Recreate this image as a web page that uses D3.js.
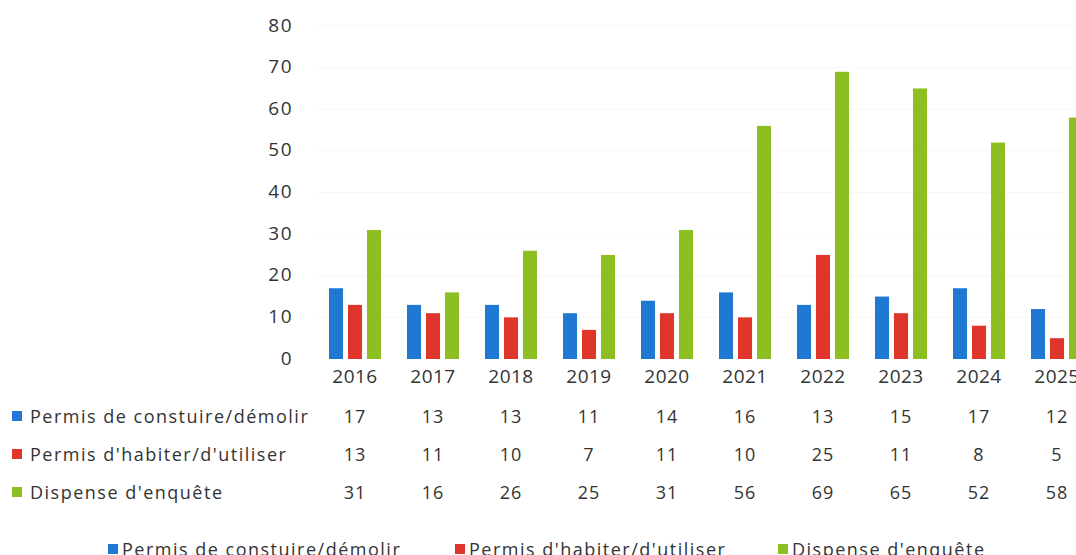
<!DOCTYPE html>
<html lang="fr">
<head>
<meta charset="utf-8"/>
<title>Permis</title>
<script src="https://d3js.org/d3.v7.min.js"></script>
<style>
  body { margin:0; background:#fff; }
  svg text { font-family: "Open Sans", "Noto Sans", sans-serif; fill:#333; }
</style>
</head>
<body>
<div id="chart"></div>
<script>

var years = ["2016","2017","2018","2019","2020","2021","2022","2023","2024","2025"];
var seriesNames = ["Permis de constuire/démolir", "Permis d'habiter/d'utiliser", "Dispense d'enquête"];
var construire = [17, 13, 13, 11, 14, 16, 13, 15, 17, 12];
var habiter    = [13, 11, 10,  7, 11, 10, 25, 11,  8,  5];
var dispense   = [31, 16, 26, 25, 31, 56, 69, 65, 52, 58];
var yTicks = [0, 10, 20, 30, 40, 50, 60, 70, 80];
var colors = ["#1f78d1", "#e0352b", "#8dbf22"];

var series = [construire, habiter, dispense];

var width = 1076, height = 555;

var svg = d3.select("#chart").append("svg")
    .attr("width", width).attr("height", height);

// plot area runs past the right edge, like the cropped source
var x = d3.scaleBand().domain(years).range([316, 1096]);
var xs = d3.scaleBand().domain(d3.range(3)).range([0, 52]).paddingInner(0.26);
var groupOffset = (x.bandwidth() - 52) / 2;

var y = d3.scaleLinear().domain([0, 80]).range([359, 26]);

// very faint gridlines
svg.append("g").selectAll("line")
  .data(yTicks.slice(1))
  .enter().append("line")
    .attr("x1", 316).attr("x2", width)
    .attr("y1", function(d) { return y(d); })
    .attr("y2", function(d) { return y(d); })
    .style("stroke", "#f8f8f8").style("stroke-width", 1);

// y axis labels
var yAxis = d3.axisLeft(y).tickValues(yTicks).tickSize(0).tickPadding(0);
var gy = svg.append("g").attr("transform", "translate(293,-1)").call(yAxis);
gy.select(".domain").remove();
gy.selectAll("text").style("font-size", "19px").style("letter-spacing", "1.5px").style("fill", "#333");

// bars
var groups = svg.append("g").selectAll("g")
  .data(years)
  .enter().append("g")
    .attr("transform", function(d) { return "translate(" + (x(d) + groupOffset) + ",0)"; });

groups.selectAll("rect")
  .data(function(d, i) { return series.map(function(s, k) { return {k: k, v: s[i]}; }); })
  .enter().append("rect")
    .attr("x", function(d) { return xs(d.k); })
    .attr("width", xs.bandwidth())
    .attr("y", function(d) { return y(d.v); })
    .attr("height", function(d) { return y(0) - y(d.v); })
    .style("fill", function(d) { return colors[d.k]; });

// category labels
var xAxis = d3.axisBottom(x).tickSize(0).tickPadding(0);
var gx = svg.append("g").attr("transform", "translate(0,369)").call(xAxis);
gx.select(".domain").remove();
gx.selectAll("text").attr("dy", "0.71em").style("font-size", "19px")
  .style("letter-spacing", "0.5px").style("fill", "#333");

// data table
var rowBase = [423, 461, 499];
var table = svg.append("g");
series.forEach(function(s, k) {
  table.append("rect")
    .attr("x", 12).attr("y", rowBase[k] - 12)
    .attr("width", 10).attr("height", 10)
    .style("fill", colors[k]);
  table.append("text")
    .attr("x", 30).attr("y", rowBase[k])
    .style("font-size", "18px")
    .style("letter-spacing", "1.5px")
    .text(seriesNames[k]);
  table.selectAll(null)
    .data(s)
    .enter().append("text")
      .attr("x", function(d, i) { return x(years[i]) + x.bandwidth() / 2; })
      .attr("y", rowBase[k])
      .attr("text-anchor", "middle")
      .style("font-size", "18px")
      .style("letter-spacing", "1px")
      .text(function(d) { return d; });
});

// legend
var legendX = [108, 455, 778];
var legend = svg.append("g").selectAll("g")
  .data(seriesNames)
  .enter().append("g")
    .attr("transform", function(d, i) { return "translate(" + legendX[i] + ",556)"; });
legend.append("rect")
  .attr("x", 0).attr("y", -12).attr("width", 10).attr("height", 10)
  .style("fill", function(d, i) { return colors[i]; });
legend.append("text")
  .attr("x", 14).attr("y", 0)
  .style("font-size", "18px")
  .style("letter-spacing", "1.5px")
  .text(function(d) { return d; });

</script>
</body>
</html>
